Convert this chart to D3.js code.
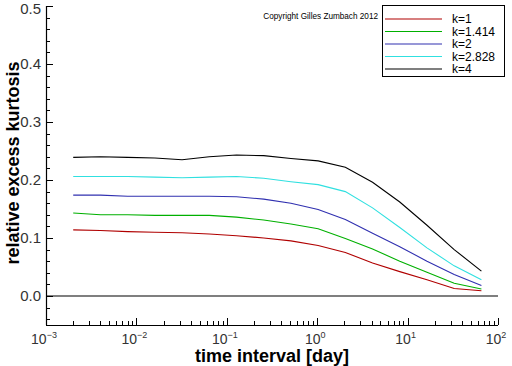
<!DOCTYPE html>
<html><head><meta charset="utf-8">
<script src="https://cdn.jsdelivr.net/npm/d3@7"></script>
<style>body{margin:0;background:#fff}svg{display:block}text{font-family:"Liberation Sans",Arial,sans-serif}</style>
</head><body>
<script>
const times = [0.002, 0.004, 0.008, 0.016, 0.032, 0.064, 0.128, 0.256, 0.512, 1.024, 2.048, 4.096, 8.192, 16.38, 32.77, 65.54];
const kLabels = ["k=1", "k=1.414", "k=2", "k=2.828", "k=4"];
const colors = ["#b00000", "#00b000", "#3030b0", "#30e0e0", "#000000"];
const k1   = [0.114,0.113,0.111,0.110,0.109,0.107,0.104,0.100,0.095,0.087,0.075,0.057,0.042,0.028,0.013,0.009];
const k1414= [0.143,0.140,0.140,0.139,0.139,0.139,0.136,0.131,0.124,0.116,0.099,0.081,0.060,0.041,0.022,0.012];
const k2   = [0.174,0.174,0.172,0.172,0.172,0.172,0.171,0.167,0.160,0.149,0.132,0.108,0.085,0.060,0.037,0.018];
const k2828= [0.206,0.206,0.206,0.205,0.204,0.205,0.206,0.203,0.197,0.192,0.180,0.152,0.118,0.083,0.052,0.028];
const k4   = [0.239,0.240,0.239,0.238,0.235,0.240,0.243,0.242,0.237,0.233,0.222,0.196,0.162,0.122,0.080,0.043];
const series = [k1, k1414, k2, k2828, k4];
const yTicks = [0.0, 0.1, 0.2, 0.3, 0.4, 0.5];
const xExps = [-3, -2, -1, 0, 1, 2];

const W = 512, H = 366;
const svg = d3.select("body").append("svg").attr("width", W).attr("height", H);
const x = d3.scaleLog().domain([1e-3, 1e2]).range([46, 498]);
const y = d3.scaleLinear().domain([-0.05, 0.5]).range([325, 6]);

// zero line
svg.append("line").attr("x1", x(1e-3)).attr("x2", x(1e2)).attr("y1", y(0)).attr("y2", y(0))
  .attr("stroke", "#000").attr("stroke-width", 1.2);

// y axis
const ya = svg.append("g");
ya.append("line").attr("x1", 46.5).attr("x2", 46.5).attr("y1", y(0.5)).attr("y2", y(-0.05)).attr("stroke", "#000").attr("stroke-width", 1.2);
const yMinor = d3.range(-0.04, 0.5001, 0.02).filter(v => Math.abs(Math.round(v*10)/10 - v) > 1e-6);
yMinor.forEach(v => ya.append("line").attr("x1", 46).attr("x2", 50).attr("y1", Math.round(y(v))+0.5).attr("y2", Math.round(y(v))+0.5).attr("stroke", "#000"));
yTicks.forEach(v => {
  ya.append("line").attr("x1", 46).attr("x2", 53).attr("y1", Math.round(y(v))+0.5).attr("y2", Math.round(y(v))+0.5).attr("stroke", "#000");
  ya.append("text").attr("x", 41).attr("y", Math.max(y(v), 8.5)).attr("dy", "0.36em").attr("text-anchor", "end")
    .attr("font-size", 15).attr("fill", "#333").text(v.toFixed(1));
});

// x axis
const xa = svg.append("g");
xa.append("line").attr("x1", x(1e-3)).attr("x2", x(1e2)).attr("y1", 325.5).attr("y2", 325.5).attr("stroke", "#000").attr("stroke-width", 1.2);
xExps.forEach(e => {
  const px = Math.round(x(Math.pow(10, e))) + 0.5;
  xa.append("line").attr("x1", px).attr("x2", px).attr("y1", 325).attr("y2", 318).attr("stroke", "#000");
  if (e < 2) for (let m = 2; m <= 9; m++) {
    const pm = Math.round(x(m * Math.pow(10, e))) + 0.5;
    xa.append("line").attr("x1", pm).attr("x2", pm).attr("y1", 325).attr("y2", 321).attr("stroke", "#000");
  }
  const t = xa.append("text").attr("x", x(Math.pow(10, e)) - 2).attr("y", 344).attr("text-anchor", "middle")
    .attr("font-size", 14).attr("fill", "#333");
  t.append("tspan").text("10");
  t.append("tspan").attr("dy", -6).attr("font-size", 9).text(e < 0 ? "\u2212" + (-e) : String(e));
});

// titles
svg.append("text").attr("x", 272).attr("y", 362).attr("text-anchor", "middle").attr("font-size", 18)
  .attr("font-weight", "bold").text("time interval [day]");
svg.append("text").attr("transform", "translate(19,163) rotate(-90)").attr("text-anchor", "middle")
  .attr("font-size", 18).attr("font-weight", "bold").text("relative excess kurtosis");

// curves
const line = d3.line().x((d, i) => x(times[i])).y(d => y(d));
series.forEach((s, i) => svg.append("path").attr("d", line(s)).attr("fill", "none")
  .attr("stroke", colors[i]).attr("stroke-width", 1.1));

// copyright
svg.append("text").attr("x", 378).attr("y", 19).attr("text-anchor", "end").attr("font-size", 8.2)
  .text("Copyright Gilles Zumbach 2012");

// legend
const lg = svg.append("g");
lg.append("rect").attr("x", 382.5).attr("y", 5.5).attr("width", 122).attr("height", 71)
  .attr("fill", "#fff").attr("stroke", "#000");
kLabels.forEach((lab, i) => {
  const ly = 19 + i * 12.5;
  lg.append("line").attr("x1", 385).attr("x2", 442).attr("y1", ly).attr("y2", ly).attr("stroke", colors[i]).attr("stroke-width", 1.1);
  lg.append("text").attr("x", 452).attr("y", ly).attr("dy", "0.36em").attr("font-size", 12).attr("fill", "#000").text(lab);
});
</script>
</body></html>
